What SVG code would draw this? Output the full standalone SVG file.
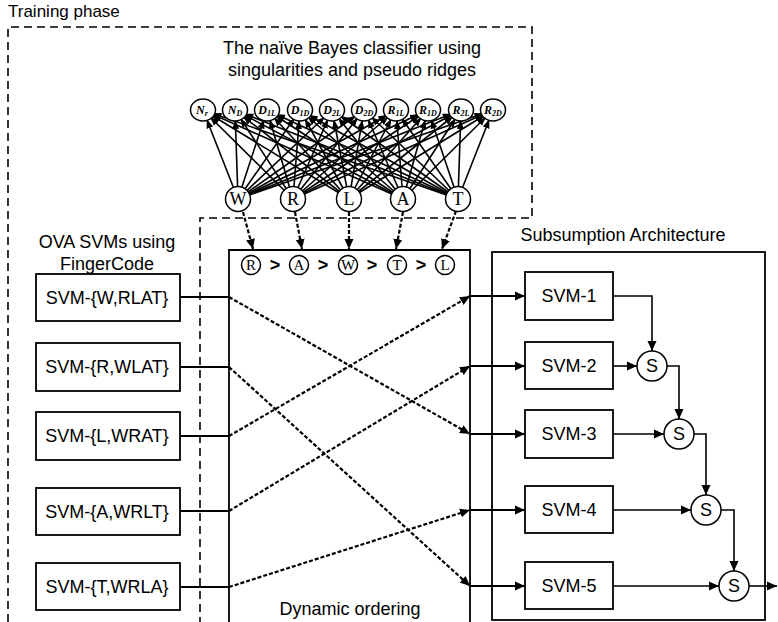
<svg xmlns="http://www.w3.org/2000/svg" width="778" height="622" viewBox="0 0 778 622">
<defs>
<style>
.t{font-family:"Liberation Sans",Arial,sans-serif;font-size:18px;fill:#000}
.c{text-anchor:middle}
.box{fill:#fff;stroke:#000;stroke-width:1.8}
.frame{fill:none;stroke:#000;stroke-width:1.8}
.dframe{fill:none;stroke:#000;stroke-width:1.6;stroke-dasharray:8 5}
.bn line{stroke:#000;stroke-width:1.6;marker-end:url(#sa)}
.w{stroke:#000;stroke-width:2;fill:none}
.d{stroke:#000;stroke-width:2.2;fill:none;stroke-dasharray:4 2}
.node{fill:#fff;stroke:#000;stroke-width:1.5}
.ser{font-family:"Liberation Serif","Times New Roman",serif;fill:#000;text-anchor:middle}
.ft{font-size:12px;font-style:italic;font-weight:bold}
.sub{font-size:8px}
</style>
<marker id="sa" viewBox="0 -4 20 8" markerWidth="20" markerHeight="8" refX="19" refY="0" orient="auto" markerUnits="userSpaceOnUse">
<path d="M0,-3.5 L9,0 L0,3.5 z" fill="#000"/>
</marker>
<marker id="a" viewBox="0 -5 10 10" markerWidth="10" markerHeight="10" refX="10" refY="0" orient="auto" markerUnits="userSpaceOnUse">
<path d="M0,-4.5 L10,0 L0,4.5 z" fill="#000"/>
</marker>
</defs>
<rect width="778" height="622" fill="#fff"/>

<g id="frames">
<text class="t" x="8" y="17" style="font-size:17px">Training phase</text>
<path class="dframe" d="M8,622 V27 H532 V218 H200 V622"/>
<path class="frame" d="M229,622 V250 H470 V622"/>
<rect class="frame" x="492" y="252" width="273" height="368"/>
<text class="t c" x="352" y="54">The naïve Bayes classifier using</text>
<text class="t c" x="352" y="76">singularities and pseudo ridges</text>
<text class="t c" x="107" y="248">OVA SVMs using</text>
<text class="t c" x="107" y="270">FingerCode</text>
<text class="t c" x="623" y="241">Subsumption Architecture</text>
<text class="t c" x="350" y="615">Dynamic ordering</text>
</g>

<g id="connectors">
<g class="bn">
<line x1="238" y1="199" x2="203" y2="110"/><line x1="238" y1="199" x2="235" y2="110"/><line x1="238" y1="199" x2="267" y2="110"/><line x1="238" y1="199" x2="300" y2="110"/><line x1="238" y1="199" x2="332" y2="110"/><line x1="238" y1="199" x2="364" y2="110"/><line x1="238" y1="199" x2="396" y2="110"/><line x1="238" y1="199" x2="428" y2="110"/><line x1="238" y1="199" x2="461" y2="110"/><line x1="238" y1="199" x2="493" y2="110"/>
<line x1="293" y1="199" x2="203" y2="110"/><line x1="293" y1="199" x2="235" y2="110"/><line x1="293" y1="199" x2="267" y2="110"/><line x1="293" y1="199" x2="300" y2="110"/><line x1="293" y1="199" x2="332" y2="110"/><line x1="293" y1="199" x2="364" y2="110"/><line x1="293" y1="199" x2="396" y2="110"/><line x1="293" y1="199" x2="428" y2="110"/><line x1="293" y1="199" x2="461" y2="110"/><line x1="293" y1="199" x2="493" y2="110"/>
<line x1="349" y1="199" x2="203" y2="110"/><line x1="349" y1="199" x2="235" y2="110"/><line x1="349" y1="199" x2="267" y2="110"/><line x1="349" y1="199" x2="300" y2="110"/><line x1="349" y1="199" x2="332" y2="110"/><line x1="349" y1="199" x2="364" y2="110"/><line x1="349" y1="199" x2="396" y2="110"/><line x1="349" y1="199" x2="428" y2="110"/><line x1="349" y1="199" x2="461" y2="110"/><line x1="349" y1="199" x2="493" y2="110"/>
<line x1="403" y1="199" x2="203" y2="110"/><line x1="403" y1="199" x2="235" y2="110"/><line x1="403" y1="199" x2="267" y2="110"/><line x1="403" y1="199" x2="300" y2="110"/><line x1="403" y1="199" x2="332" y2="110"/><line x1="403" y1="199" x2="364" y2="110"/><line x1="403" y1="199" x2="396" y2="110"/><line x1="403" y1="199" x2="428" y2="110"/><line x1="403" y1="199" x2="461" y2="110"/><line x1="403" y1="199" x2="493" y2="110"/>
<line x1="458" y1="199" x2="203" y2="110"/><line x1="458" y1="199" x2="235" y2="110"/><line x1="458" y1="199" x2="267" y2="110"/><line x1="458" y1="199" x2="300" y2="110"/><line x1="458" y1="199" x2="332" y2="110"/><line x1="458" y1="199" x2="364" y2="110"/><line x1="458" y1="199" x2="396" y2="110"/><line x1="458" y1="199" x2="428" y2="110"/><line x1="458" y1="199" x2="461" y2="110"/><line x1="458" y1="199" x2="493" y2="110"/>
</g>
<path class="d" d="M243,212 L253,249" marker-end="url(#a)"/>
<path class="d" d="M295,212 L302,249" marker-end="url(#a)"/>
<path class="d" d="M349,212 L349,249" marker-end="url(#a)"/>
<path class="d" d="M403,212 L396,249" marker-end="url(#a)"/>
<path class="d" d="M456,211 L442,249" marker-end="url(#a)"/>
<path class="w" d="M180,297 H229"/>
<path class="w" d="M180,367 H229"/>
<path class="w" d="M180,436 H229"/>
<path class="w" d="M180,511 H229"/>
<path class="w" d="M180,587 H229"/>
<path class="d" d="M229,297 L470,434" marker-end="url(#a)"/>
<path class="d" d="M229,367 L470,586" marker-end="url(#a)"/>
<path class="d" d="M229,436 L470,296" marker-end="url(#a)"/>
<path class="d" d="M229,511 L470,366" marker-end="url(#a)"/>
<path class="d" d="M229,587 L470,510" marker-end="url(#a)"/>
<path class="w" d="M470,296 H525" marker-end="url(#a)"/>
<path class="w" d="M470,366 H525" marker-end="url(#a)"/>
<path class="w" d="M470,434 H525" marker-end="url(#a)"/>
<path class="w" d="M470,510 H525" marker-end="url(#a)"/>
<path class="w" d="M470,586 H525" marker-end="url(#a)"/>
<path class="w" style="stroke-width:1.6" d="M613,296 H652 V351" marker-end="url(#a)"/>
<path class="w" style="stroke-width:1.6" d="M613,366 H637" marker-end="url(#a)"/>
<path class="w" style="stroke-width:1.6" d="M667,366 H679 V419" marker-end="url(#a)"/>
<path class="w" style="stroke-width:1.6" d="M613,434 H664" marker-end="url(#a)"/>
<path class="w" style="stroke-width:1.6" d="M694,434 H706 V495" marker-end="url(#a)"/>
<path class="w" style="stroke-width:1.6" d="M613,510 H691" marker-end="url(#a)"/>
<path class="w" style="stroke-width:1.6" d="M721,510 H734 V571" marker-end="url(#a)"/>
<path class="w" style="stroke-width:1.6" d="M613,586 H719" marker-end="url(#a)"/>
<path class="w" style="stroke-width:1.6" d="M749,586 H777" marker-end="url(#a)"/>
</g>

<g id="f-NC"><ellipse class="node" cx="203" cy="110" rx="12.5" ry="11"/><text class="ser ft" x="202" y="114">N<tspan class="sub" dy="2">r</tspan></text></g>
<g id="f-ND"><ellipse class="node" cx="235" cy="110" rx="12.5" ry="11"/><text class="ser ft" x="235" y="114">N<tspan class="sub" dy="2">D</tspan></text></g>
<g id="f-D1L"><ellipse class="node" cx="267" cy="110" rx="12.5" ry="11"/><text class="ser ft" x="267" y="114">D<tspan class="sub" dy="2">1L</tspan></text></g>
<g id="f-D1D"><ellipse class="node" cx="300" cy="110" rx="12.5" ry="11"/><text class="ser ft" x="300" y="114">D<tspan class="sub" dy="2">1D</tspan></text></g>
<g id="f-D2L"><ellipse class="node" cx="332" cy="110" rx="12.5" ry="11"/><text class="ser ft" x="332" y="114">D<tspan class="sub" dy="2">2L</tspan></text></g>
<g id="f-D2D"><ellipse class="node" cx="364" cy="110" rx="12.5" ry="11"/><text class="ser ft" x="364" y="114">D<tspan class="sub" dy="2">2D</tspan></text></g>
<g id="f-R1L"><ellipse class="node" cx="396" cy="110" rx="12.5" ry="11"/><text class="ser ft" x="396" y="114">R<tspan class="sub" dy="2">1L</tspan></text></g>
<g id="f-R1D"><ellipse class="node" cx="428" cy="110" rx="12.5" ry="11"/><text class="ser ft" x="428" y="114">R<tspan class="sub" dy="2">1D</tspan></text></g>
<g id="f-R2L"><ellipse class="node" cx="461" cy="110" rx="12.5" ry="11"/><text class="ser ft" x="461" y="114">R<tspan class="sub" dy="2">2L</tspan></text></g>
<g id="f-R2D"><ellipse class="node" cx="493" cy="110" rx="12.5" ry="11"/><text class="ser ft" x="493" y="114">R<tspan class="sub" dy="2">2D</tspan></text></g>

<g id="c-W"><circle class="node" cx="238" cy="199" r="12.5"/><text class="ser" x="238" y="205" font-size="18">W</text></g>
<g id="c-R"><circle class="node" cx="293" cy="199" r="12.5"/><text class="ser" x="293" y="205" font-size="18">R</text></g>
<g id="c-L"><circle class="node" cx="349" cy="199" r="12.5"/><text class="ser" x="349" y="205" font-size="18">L</text></g>
<g id="c-A"><circle class="node" cx="403" cy="199" r="12.5"/><text class="ser" x="403" y="205" font-size="18">A</text></g>
<g id="c-T"><circle class="node" cx="458" cy="199" r="12.5"/><text class="ser" x="458" y="205" font-size="18">T</text></g>

<g id="order">
<circle class="node" cx="251" cy="265" r="9.5"/><text class="ser" x="251" y="270" font-size="15">R</text>
<text class="t c" x="275" y="271" font-weight="bold" font-size="15">&gt;</text>
<circle class="node" cx="299" cy="265" r="9.5"/><text class="ser" x="299" y="270" font-size="15">A</text>
<text class="t c" x="323" y="271" font-weight="bold" font-size="15">&gt;</text>
<circle class="node" cx="348" cy="265" r="9.5"/><text class="ser" x="348" y="270" font-size="15">W</text>
<text class="t c" x="372" y="271" font-weight="bold" font-size="15">&gt;</text>
<circle class="node" cx="397" cy="265" r="9.5"/><text class="ser" x="397" y="270" font-size="15">T</text>
<text class="t c" x="421" y="271" font-weight="bold" font-size="15">&gt;</text>
<circle class="node" cx="445" cy="265" r="9.5"/><text class="ser" x="445" y="270" font-size="15">L</text>
</g>

<g id="ova-W"><rect class="box" x="36" y="274" width="144" height="47"/><text class="t c" x="107" y="304">SVM-{W,RLAT}</text></g>
<g id="ova-R"><rect class="box" x="36" y="343" width="144" height="48"/><text class="t c" x="107" y="373">SVM-{R,WLAT}</text></g>
<g id="ova-L"><rect class="box" x="36" y="412" width="144" height="48"/><text class="t c" x="107" y="442">SVM-{L,WRAT}</text></g>
<g id="ova-A"><rect class="box" x="36" y="488" width="144" height="47"/><text class="t c" x="107" y="518">SVM-{A,WRLT}</text></g>
<g id="ova-T"><rect class="box" x="36" y="563" width="144" height="47"/><text class="t c" x="107" y="593">SVM-{T,WRLA}</text></g>

<g id="svm-1"><rect class="box" x="525" y="272" width="88" height="48"/><text class="t c" x="569" y="302">SVM-1</text></g>
<g id="svm-2"><rect class="box" x="525" y="342" width="88" height="47"/><text class="t c" x="569" y="372">SVM-2</text></g>
<g id="svm-3"><rect class="box" x="525" y="410" width="88" height="48"/><text class="t c" x="569" y="440">SVM-3</text></g>
<g id="svm-4"><rect class="box" x="525" y="486" width="88" height="47"/><text class="t c" x="569" y="516">SVM-4</text></g>
<g id="svm-5"><rect class="box" x="525" y="562" width="88" height="47"/><text class="t c" x="569" y="592">SVM-5</text></g>

<g id="s-1"><circle class="node" cx="652" cy="366" r="15"/><text class="t c" x="652" y="372">S</text></g>
<g id="s-2"><circle class="node" cx="679" cy="434" r="15"/><text class="t c" x="679" y="440">S</text></g>
<g id="s-3"><circle class="node" cx="706" cy="510" r="15"/><text class="t c" x="706" y="516">S</text></g>
<g id="s-4"><circle class="node" cx="734" cy="586" r="15"/><text class="t c" x="734" y="592">S</text></g>
</svg>
